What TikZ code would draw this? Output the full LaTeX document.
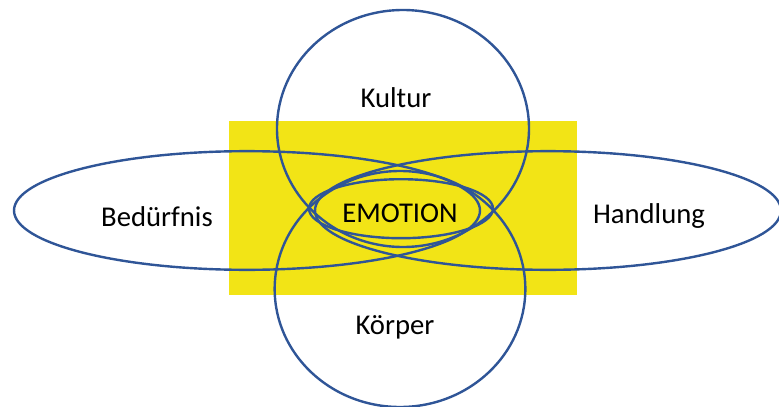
\documentclass[tikz,border=0pt]{standalone}
\usepackage{fontspec}
\setmainfont{Carlito}
\usetikzlibrary{shapes.geometric}
\definecolor{ringblue}{RGB}{47,85,151}
\definecolor{fieldyellow}{RGB}{242,228,22}

\begin{document}
\begin{tikzpicture}[
  x=0.75pt, y=-0.75pt,
  ring/.style={draw=ringblue, line width=1.8pt, ellipse, inner sep=0pt},
  lbl/.style={font=\fontsize{21.5}{24}\selectfont, inner sep=0pt, anchor=base}
]
\useasboundingbox (0,0) rectangle (779,407);
\fill[fieldyellow] (229,121) rectangle (577,295);
% circles and ellipses
\node[ring, minimum width=189pt, minimum height=177.75pt] (kultur) at (403,128.5) {};
\node[ring, minimum width=188pt, minimum height=177pt] (koerper) at (400,289) {};
\node[ring, minimum width=349.5pt, minimum height=89pt] (beduerfnis) at (247,210.5) {};
\node[ring, minimum width=349.5pt, minimum height=89pt] (handlung) at (548,210.5) {};
\node[ring, minimum width=138pt, minimum height=44.25pt] (emotion) at (401,208.7) {};
% labels
\node[lbl] (kulturtxt) at (396,107) {Kultur};
\node[lbl] (beduerfnistxt) at (157,226) {Bedürfnis};
\node[lbl] (emotiontxt) at (400,222) {EMOTION};
\node[lbl] (handlungtxt) at (649,223) {Handlung};
\node[lbl] (koerpertxt) at (395,334) {Körper};
\end{tikzpicture}
\end{document}
